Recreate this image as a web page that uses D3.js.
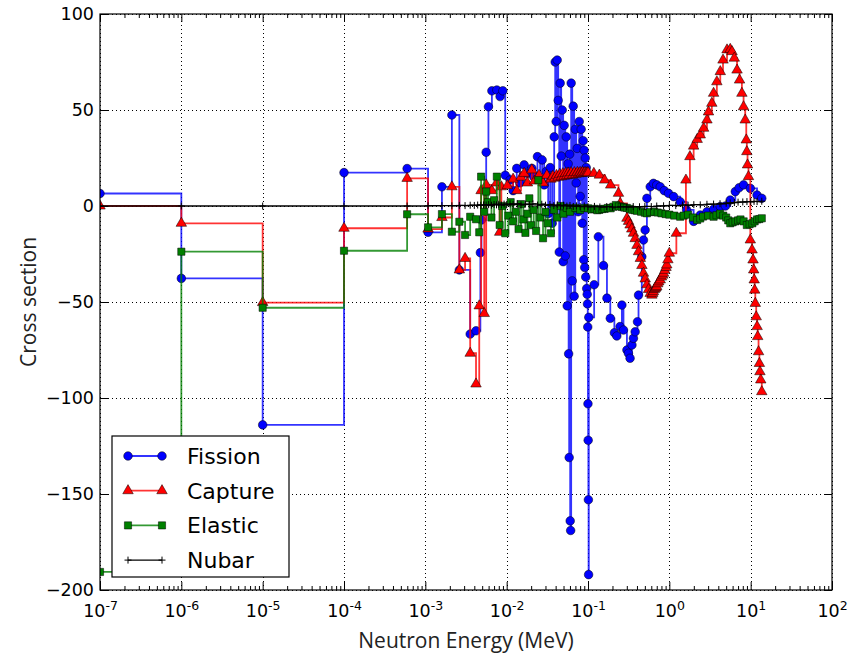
<!DOCTYPE html>
<html><head><meta charset="utf-8">
<script src="https://cdn.jsdelivr.net/npm/d3@7"></script>
<style>body{margin:0;background:#fff}svg{display:block}</style>
</head><body>
<svg id="chart" width="862" height="653"></svg>
<script>
// ---------------- data ----------------
const xTickExponents = [-7,-6,-5,-4,-3,-2,-1,0,1,2];
const yTicks = [-200,-150,-100,-50,0,50,100];
const seriesNames = ["Fission","Capture","Elastic","Nubar"];

const fissionE = [1e-7,1e-6,1e-5,1e-4,5.97e-4,1.08e-3,1.6e-3,2.12e-3,2.62e-3,3.56e-3,
 4.2e-3,4.75e-3,4.9e-3,5.6e-3,5.97e-3,6.58e-3,7.57e-3,8.3e-3,8.97e-3,9.6e-3,
 1.1e-2,1.2e-2,1.33e-2,1.45e-2,1.64e-2,1.8e-2,2.04e-2,2.15e-2,2.39e-2,2.58e-2,
 2.73e-2,2.89e-2,3.06e-2,3.24e-2,3.43e-2,3.63e-2,3.84e-2,3.95e-2,4.06e-2,4.18e-2,
 4.30e-2,4.43e-2,4.55e-2,4.68e-2,4.82e-2,4.95e-2,5.09e-2,5.25e-2,5.40e-2,5.55e-2,
 5.70e-2,5.78e-2,5.87e-2,5.95e-2,6.04e-2,6.12e-2,6.21e-2,6.40e-2,6.58e-2,6.76e-2,
 6.97e-2,7.16e-2,7.36e-2,7.57e-2,7.80e-2,8.02e-2,8.24e-2,8.49e-2,8.73e-2,8.86e-2,
 8.97e-2,9.11e-2,9.25e-2,9.38e-2,9.51e-2,9.64e-2,9.78e-2,9.86e-2,9.93e-2,9.99e-2,
 0.1005,0.1011,0.1017,0.1023,0.119,0.134,0.155,0.171,0.188,0.211,
 0.226,0.248,0.261,0.273,0.301,0.314,0.329,0.347,0.362,0.380,
 0.406,0.418,0.459,0.481,0.504,0.530,0.582,0.638,0.70,0.773,
 0.866,0.977,1.13,1.36,1.63,1.99,2.40,2.90,3.50,4.23,
 4.9,5.61,6.47,7.2,8.18,9.9,11.97,13.7];
const fissionXS = [6.5,-37.7,-114,17.4,19.5,-13.7,10,47.4,-33.3,-66.7,
 -65,-24.3,-7.3,28,51.7,60,60.4,57,60,16,
 13.5,8,19.6,12,21.4,17,19.6,15.3,25.7,13.5,
 24,11,18,-4,20,-9,36,75,44,76,
 55,-24,64,26,50,-29,42,-26,36,-52,
 22,-77,-131,27,-164,-169,64,-39,52,-47,
 40,12,30,-3,44,5,40,-9,34,-28,
 29,-32,25,-37,20,-43,-46,-51,-63,-103,
 -122,-153,-192,-58,-41,-16,-31,-48,-58.5,-66,
 -67.7,-62.8,-51.6,-64.6,-75,-76.7,-79.3,-72.4,-68.9,-65.5,
 -60.3,-46.4,-26.4,-17.7,-12.5,4,10,11.8,11,10,
 8,6.6,4.9,2.2,-2,-8,-4.7,-3,-1.7,-0.3,
 0,3.1,7.5,9.5,11,9.2,5.7,4];

const captureE = [1e-7,1e-6,1e-5,1e-4,5.97e-4,1.08e-3,1.6e-3,2.12e-3,2.62e-3,3.08e-3,
 3.56e-3,4.2e-3,4.6e-3,4.85e-3,5.3e-3,5.6e-3,6.58e-3,7.5e-3,8.2e-3,8.6e-3,
 1.02e-2,1.2e-2,1.33e-2,1.5e-2,1.64e-2,1.8e-2,2.04e-2,2.2e-2,2.5e-2,2.8e-2,
 3.12e-2,
 3.5e-2,3.7e-2,3.9e-2,4.1e-2,4.3e-2,4.5e-2,4.7e-2,4.9e-2,5.1e-2,5.3e-2,
 5.5e-2,5.7e-2,5.9e-2,6.2e-2,6.5e-2,6.8e-2,7.1e-2,7.4e-2,7.7e-2,8.0e-2,
 8.3e-2,8.6e-2,8.9e-2,9.2e-2,9.5e-2,9.8e-2,0.1005,
 0.118,0.138,0.16,0.19,0.237,0.249,
 0.301,0.315,0.329,0.345,0.362,0.38,0.40,0.418,0.44,0.46,
 0.481,0.505,0.53,0.555,0.582,
 0.61,0.625,0.638,0.655,0.67,0.685,0.70,0.72,0.74,0.773,
 0.80,0.83,0.85,0.88,0.91,0.93,0.96,1.0,
 1.22,1.6,1.79,1.99,2.2,2.4,2.64,2.9,3.03,3.33,
 3.5,3.84,4.23,4.57,5.12,5.61,5.9,6.29,6.8,7.3,
 7.8,8.18,8.57,8.83,8.97,9.15,9.4,9.9,10.4,10.7,
 10.9,11.05,11.2,11.4,11.7,12.0,12.2,12.5,12.8,13.0,
 13.3,13.7];
const captureXS = [0,-9,-50.3,-11.6,14.4,-12,-6,10,-33.3,-27.3,
 -76.7,-92.7,-52,8,-56,11,8,12,-13.7,10,
 10.6,14,8,15,17,12,18.8,13,16,12,
 16,
 14,15.5,14.5,16,15,16.5,15.2,16.8,15.5,17,
 15.8,17.2,16,17.3,16.2,17.4,16.5,17.5,16.8,17.5,
 17,17.6,17.1,17.5,17.2,17.4,17.3,
 17,16.1,13.5,10.9,6.6,1.4,
 -6.4,-8,-9.9,-12,-14.2,-17,-20.5,-23.8,-27.3,-31,
 -35,-38,-41,-43.5,-45.5,
 -46.4,-45.5,-44.6,-43.5,-43,-42.5,-42,-40.5,-39.5,-38.5,
 -37,-36,-35,-33.5,-32,-30.7,-28,-24.6,
 -14.2,13.5,25.7,31.2,34.7,37,40.5,44.8,49,53.5,
 58.7,64.7,70,76,81.3,81.6,80.4,77,70.8,65.6,
 58.7,51.7,44.8,34.4,28.3,21.4,15.3,-17.7,-22.9,-28.1,
 -33.3,-38.5,-43.8,-50.7,-57.7,-62.8,-68,-75.9,-82,-86.3,
 -90.6,-96.7];

const elasticE = [1e-7,1e-6,1e-5,1e-4,5.97e-4,1.08e-3,1.6e-3,2.12e-3,2.62e-3,3.08e-3,
 3.56e-3,4.2e-3,4.6e-3,4.85e-3,5.3e-3,5.6e-3,5.9e-3,6.5e-3,7.0e-3,7.57e-3,
 8.2e-3,8.8e-3,9.6e-3,1.05e-2,1.12e-2,1.2e-2,1.3e-2,1.4e-2,1.5e-2,1.6e-2,
 1.7e-2,1.8e-2,1.9e-2,2.0e-2,2.15e-2,2.3e-2,2.45e-2,2.6e-2,2.8e-2,3.0e-2,
 3.2e-2,3.5e-2,3.8e-2,4.2e-2,4.6e-2,5.0e-2,5.5e-2,6.0e-2,7.0e-2,8.0e-2,
 9.0e-2,
 0.1,0.11,0.12,0.13,0.138,0.15,0.16,0.175,0.19,0.205,
 0.22,0.24,0.26,0.28,0.3,0.325,0.35,0.375,0.4,0.45,
 0.5,0.53,0.58,0.65,0.72,0.8,0.9,1.0,1.15,1.36,
 1.5,1.7,1.95,2.2,2.4,2.6,3.0,3.5,3.8,4.2,
 4.6,5.0,5.3,5.61,6.0,6.5,7.0,7.5,8.2,8.97,
 9.7,10.5,11.2,12.0,12.8,13.7];
const elasticXS = [-190.6,-23.8,-53,-23.3,-4.3,-11.1,-4.2,-13.4,-8.2,-15.1,
 -5.6,-6.9,-13.7,15.3,-3,7.5,2,-6,3,15.3,
 -9.9,0,-14.2,-5,2,-8,-3,-12,1,-7,
 -14,-4,4,-10,-2,-13,13.5,-6,-16.8,-3,
 -9,-14.2,-2,-6,0,-4,-1,-3,-1,-2,
 -1,
 -1.2,-1.8,-1.5,-2.2,-2,-1.6,-1.5,-1,-1.2,-0.4,
 0.5,-0.2,-0.5,-0.8,-1,-1.5,-2,-2.2,-2.5,-3,
 -3.5,-3.8,-3.2,-3,-3.4,-3.8,-4.2,-4.5,-5,-5.6,
 -5,-4.5,-6,-7.3,-6.5,-5.5,-5,-5.6,-4.8,-4,
 -5,-6,-7.5,-9,-8.5,-8,-7.5,-7,-8,-9.9,
 -9.5,-9,-8,-7,-6.8,-6.4];

const nubarE = [1e-7,1e-6,1e-5,1e-4,5.97e-4,1.08e-3,1.6e-3,2.12e-3,2.62e-3,3.08e-3,
 3.56e-3,4.0e-3,4.4e-3,4.8e-3,5.2e-3,5.6e-3,6.0e-3,6.5e-3,7.0e-3,7.5e-3,
 8.0e-3,8.6e-3,9.3e-3,1.0e-2,1.1e-2,1.2e-2,1.35e-2,1.5e-2,1.7e-2,1.9e-2,
 2.1e-2,2.4e-2,2.7e-2,3.0e-2,3.4e-2,3.8e-2,4.2e-2,4.6e-2,5.0e-2,5.5e-2,
 6.0e-2,6.6e-2,7.2e-2,8.0e-2,9.0e-2,0.1,0.12,0.14,0.17,0.2,
 0.25,0.3,0.36,0.43,0.5,0.6,0.7,0.85,1.0,1.2,
 1.45,1.7,2.0,2.4,2.9,3.5,4.2,5.0,5.6,6.3,
 7.0,8.0,9.0,10.0,11.0,12.0,13.7];
const nubarXS = [0,0,0,0,0,0.1,0.2,0.1,0.3,0.2,
 0.4,0.3,0.5,0.4,0.6,0.5,0.7,0.4,0.8,0.6,
 0.9,0.5,1.0,0.7,1.1,0.8,1.2,0.6,1.0,0.7,
 1.1,0.5,0.9,0.4,0.8,0.2,0.6,0.1,0.4,0,
 0.3,-0.2,0.1,-0.3,0,-0.4,-0.2,-0.5,-0.3,-0.6,
 -0.4,-0.5,-0.3,-0.4,-0.2,-0.3,0,0.1,0.3,0.2,
 0.5,0.4,0.7,0.6,0.9,1.0,1.2,1.4,1.6,1.8,
 2.0,2.1,2.3,2.2,2.4,2.3,2.5];

// ---------------- chart ----------------
const svg = d3.select("#chart");
const L = 100, R = 832, T = 14, B = 590;
const x = d3.scaleLog().domain([1e-7, 1e2]).range([L, R]);
const y = d3.scaleLinear().domain([-200, 100]).range([B, T]);
const tickFont = "'DejaVu Sans', sans-serif";

const majorX = xTickExponents.map(e => Math.pow(10, e));
const minorX = [];
for (let e = -7; e < 2; e++) for (let k = 2; k <= 9; k++) minorX.push(k * Math.pow(10, e));

// grid (dotted)
const grid = svg.append("g").attr("class", "grid");
grid.append("g").attr("transform", `translate(0,${B})`)
  .call(d3.axisBottom(x).tickValues(majorX).tickSize(-(B - T)).tickFormat(""));
grid.append("g").attr("transform", `translate(${L},0)`)
  .call(d3.axisLeft(y).tickValues(yTicks).tickSize(-(R - L)).tickFormat(""));
grid.selectAll(".domain").remove();
grid.selectAll("line").attr("stroke", "#000").attr("stroke-width", 1)
  .attr("stroke-dasharray", "1,3").attr("shape-rendering", "crispEdges");

// data
const defs = svg.append("defs");
defs.append("clipPath").attr("id", "clip").append("rect")
  .attr("x", L).attr("y", T).attr("width", R - L).attr("height", B - T);
const plot = svg.append("g").attr("clip-path", "url(#clip)");

const stepLine = d3.line().curve(d3.curveStepAfter).x(d => x(d[0])).y(d => y(d[1]));

const series = [
  {name: "Fission", E: fissionE, V: fissionXS, color: "#0000ff", marker: "circle"},
  {name: "Capture", E: captureE, V: captureXS, color: "#ff0000", marker: "triangle"},
  {name: "Elastic", E: elasticE, V: elasticXS, color: "#008000", marker: "square"},
  {name: "Nubar",   E: nubarE,   V: nubarXS,   color: "#000000", marker: "plus"}
];

function drawMarker(g, type, color, cx, cy) {
  if (type === "circle") {
    g.append("circle").attr("cx", cx).attr("cy", cy).attr("r", 4.3)
      .attr("fill", color).attr("stroke", "#000").attr("stroke-width", 0.5);
  } else if (type === "triangle") {
    g.append("path").attr("d", d3.symbol(d3.symbolTriangle, 48)())
      .attr("transform", `translate(${cx},${cy})`)
      .attr("fill", color).attr("stroke", "#000").attr("stroke-width", 0.5);
  } else if (type === "square") {
    g.append("path").attr("d", d3.symbol(d3.symbolSquare, 52)())
      .attr("transform", `translate(${cx},${cy})`)
      .attr("fill", color).attr("stroke", "#000").attr("stroke-width", 0.5);
  } else {
    g.append("path").attr("d", `M${cx-3.5},${cy}H${cx+3.5}M${cx},${cy-3.5}V${cy+3.5}`)
      .attr("stroke", "#000").attr("stroke-width", 1);
  }
}

series.forEach(s => {
  const pts = s.E.map((e, i) => [e, s.V[i]]);
  const g = plot.append("g");
  g.append("path").datum(pts).attr("d", stepLine)
    .attr("fill", "none").attr("stroke", s.color)
    .attr("stroke-opacity", s.marker === "plus" ? 1 : 0.8)
    .attr("stroke-width", s.marker === "plus" ? 1.4 : 1.8);
  pts.forEach(p => drawMarker(g, s.marker, s.color, x(p[0]), y(p[1])));
});

// axes (ticks inward)
function styleAxis(g) {
  g.selectAll(".domain").remove();
  g.selectAll("line").attr("stroke", "#000").attr("stroke-width", 1);
}
const ax = svg.append("g");
const bottom = ax.append("g").attr("transform", `translate(0,${B})`)
  .call(d3.axisBottom(x).tickValues(majorX).tickSizeInner(-8).tickSizeOuter(0).tickPadding(15)
    .tickFormat(d => String(Math.round(Math.log10(d)))));
styleAxis(bottom);
bottom.selectAll(".tick text").each(function(d) {
  const exp = Math.round(Math.log10(d));
  const t = d3.select(this);
  t.text(null).attr("font-family", tickFont).attr("font-size", 17.5).attr("fill", "#000")
   .attr("y", 15).attr("dy", "0.71em");
  t.append("tspan").text("10");
  t.append("tspan").attr("dy", -7.5).attr("font-size", 12.5).text(exp < 0 ? "-" + Math.abs(exp) : String(exp));
});
ax.append("g").attr("transform", `translate(0,${B})`)
  .call(d3.axisBottom(x).tickValues(minorX).tickSizeInner(-4).tickSizeOuter(0).tickFormat(""))
  .call(styleAxis);
ax.append("g").attr("transform", `translate(0,${T})`)
  .call(d3.axisTop(x).tickValues(majorX).tickSizeInner(-8).tickSizeOuter(0).tickFormat(""))
  .call(styleAxis);
ax.append("g").attr("transform", `translate(0,${T})`)
  .call(d3.axisTop(x).tickValues(minorX).tickSizeInner(-4).tickSizeOuter(0).tickFormat(""))
  .call(styleAxis);
const left = ax.append("g").attr("transform", `translate(${L},0)`)
  .call(d3.axisLeft(y).tickValues(yTicks).tickSizeInner(-8).tickSizeOuter(0).tickPadding(6)
    .tickFormat(d => d < 0 ? "\u2212" + Math.abs(d) : String(d)));
styleAxis(left);
left.selectAll(".tick text").attr("font-family", tickFont).attr("font-size", 17.5).attr("fill", "#000");
ax.append("g").attr("transform", `translate(${R},0)`)
  .call(d3.axisRight(y).tickValues(yTicks).tickSizeInner(-8).tickSizeOuter(0).tickFormat(""))
  .call(styleAxis);

// frame
svg.append("rect").attr("x", L).attr("y", T).attr("width", R - L).attr("height", B - T)
  .attr("fill", "none").attr("stroke", "#000").attr("stroke-width", 1.2);

// axis labels
svg.append("text").attr("x", (L + R) / 2).attr("y", 648).attr("text-anchor", "middle")
  .attr("font-family", "'Open Sans', sans-serif").attr("font-size", 21).attr("fill", "#222")
  .text("Neutron Energy (MeV)");
svg.append("text").attr("transform", `translate(36,${(T + B) / 2}) rotate(-90)`)
  .attr("text-anchor", "middle")
  .attr("font-family", "'Open Sans', sans-serif").attr("font-size", 21).attr("fill", "#222")
  .text("Cross section");

// legend
const lg = svg.append("g");
lg.append("rect").attr("x", 112).attr("y", 436).attr("width", 177).attr("height", 141)
  .attr("fill", "#fff").attr("stroke", "#000").attr("stroke-width", 1.2);
series.forEach((s, i) => {
  const yy = 456 + i * 34.7;
  lg.append("line").attr("x1", 128).attr("x2", 162).attr("y1", yy).attr("y2", yy)
    .attr("stroke", s.color).attr("stroke-opacity", s.marker === "plus" ? 1 : 0.8)
    .attr("stroke-width", s.marker === "plus" ? 1.4 : 1.8);
  drawMarker(lg, s.marker, s.color, 128, yy);
  drawMarker(lg, s.marker, s.color, 162, yy);
  lg.append("text").attr("x", 187).attr("y", yy).attr("dy", "0.36em")
    .attr("font-family", tickFont).attr("font-size", 22).attr("fill", "#000")
    .text(seriesNames[i]);
});
</script>
</body></html>
